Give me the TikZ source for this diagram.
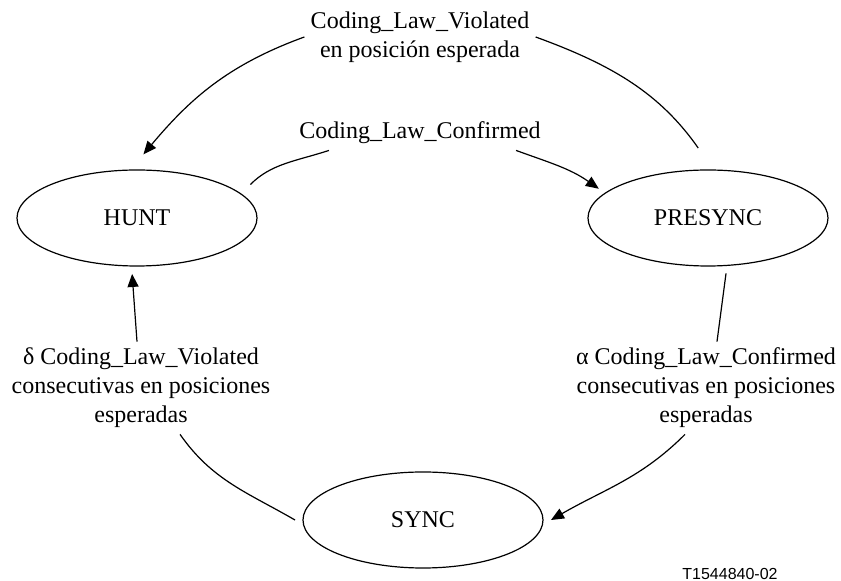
\documentclass[tikz,border=0pt]{standalone}
\usepackage{fontspec}
\setmainfont{Liberation Serif}
\setsansfont{Liberation Sans}
\usepackage{tikz}
\usetikzlibrary{shapes.geometric,arrows.meta,positioning}

\begin{document}
\begin{tikzpicture}[
			x=0.5pt, y=-0.5pt,
			font=\fontsize{12pt}{14.5pt}\selectfont,
			state/.style={ellipse, draw, line width=0.6pt, minimum width=120pt, minimum height=48pt, inner sep=0pt, outer sep=4pt},
			cond/.style={align=center, inner sep=3pt},
			link/.style={line width=0.6pt},
			arrow/.style={line width=0.6pt, -{Triangle[length=6.5pt,width=5.5pt]}}
			]
			\useasboundingbox (0,0) rectangle (841,581);
			
			% 状态
			\node (HUNT) [state] at (137,218) {HUNT};
			\node (PRESYNC) [state] at (708,218) {PRESYNC};
			\node (SYNC) [state] at (423,520) {SYNC};
			
			% 转移条件
			\node (top) [cond] at (420,37) {Coding\_Law\_Violated\\en posición esperada};
			\node (mid) [cond] at (420,133) {Coding\_Law\_Confirmed};
			\node (lblL) [cond] at (141,388) {δ Coding\_Law\_Violated\\consecutivas en posiciones\\esperadas};
			\node (lblR) [cond] at (706,388) {α Coding\_Law\_Confirmed\\consecutivas en posiciones\\esperadas};
			\node (code) [font=\fontsize{8pt}{9pt}\selectfont\sffamily] at (730,574) {T1544840-02};
			
			% 转移箭头
			\draw [link, shorten <=8.5pt] (PRESYNC.north) to[out=125, in=-20] (top.east);
			\draw [arrow, shorten >=5pt] (top.west) to[out=200, in=50] (HUNT.north);
			\draw [link, shorten <=3pt] (HUNT.15) to[out=45, in=198] ([xshift=18pt]mid.south west);
			\draw [arrow] ([xshift=-15.5pt]mid.south east) to[out=-20, in=145] (PRESYNC.165);
			\draw [link] (PRESYNC.-72) -- ([xshift=5.5pt]lblR.north);
			\draw [arrow] ([xshift=-10.5pt]lblR.south) to[out=-135, in=30] (SYNC.east);
			\draw [link] (SYNC.west) to[out=150, in=-55] ([xshift=19.5pt]lblL.south);
			\draw [arrow] ([xshift=-2pt]lblL.north) -- (HUNT.265);
			
		\end{tikzpicture}
\end{document}
